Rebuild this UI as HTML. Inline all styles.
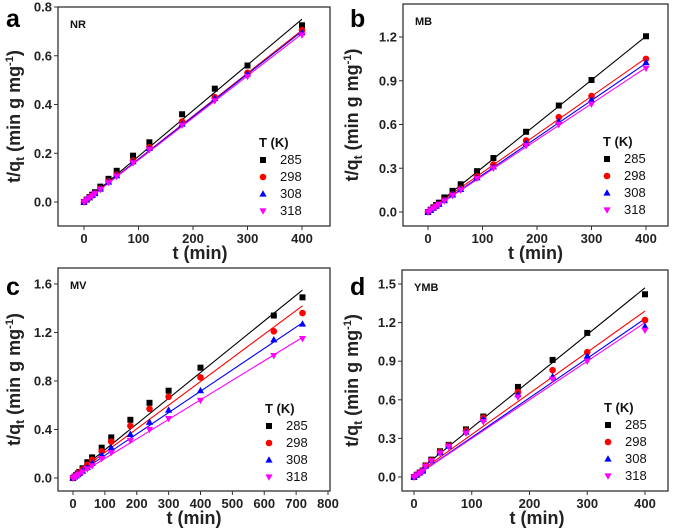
<!DOCTYPE html>
<html><head><meta charset="utf-8"><style>
body{margin:0;background:#fff;}
svg{display:block;font-family:"Liberation Sans",Arial,sans-serif;}
</style></head><body>
<svg id="fig" width="675" height="532" viewBox="0 0 675 532"></svg>
<script>
// ---------- data ----------
const legendTemps = ["285","298","308","318"];
const seriesColors = ["#000000","#ff0000","#0000ff","#ff00ff"];
const timesA = [0,5,10,15,20,30,45,60,90,120,180,240,300,400];
const timesC = [0,5,10,15,20,30,45,60,90,120,180,240,300,400,630,720];

const a285 = [0,0.010,0.020,0.030,0.040,0.063,0.095,0.128,0.19,0.245,0.36,0.465,0.56,0.725];
const a298 = [0,0.009,0.018,0.027,0.036,0.055,0.085,0.112,0.17,0.225,0.33,0.43,0.53,0.705];
const a308 = [0,0.009,0.018,0.027,0.035,0.053,0.082,0.108,0.165,0.22,0.32,0.425,0.525,0.695];
const a318 = [0,0.008,0.017,0.026,0.034,0.051,0.079,0.105,0.16,0.215,0.315,0.415,0.515,0.685];
const aLineStart = [0,0,0,0];
const aLineEnd = [0.75,0.705,0.70,0.69];

const b285 = [0,0.016,0.032,0.048,0.064,0.10,0.145,0.19,0.28,0.37,0.55,0.73,0.905,1.205];
const b298 = [0,0.014,0.028,0.041,0.055,0.082,0.12,0.16,0.245,0.325,0.49,0.65,0.795,1.05];
const b308 = [0,0.013,0.027,0.040,0.053,0.079,0.117,0.155,0.235,0.31,0.47,0.62,0.77,1.025];
const b318 = [0,0.013,0.026,0.039,0.051,0.076,0.113,0.15,0.23,0.30,0.455,0.60,0.74,0.985];
const bLineStart = [0.005,0.01,0,0];
const bLineEnd = [1.205,1.055,1.02,0.99];

const c285 = [0,0.012,0.025,0.037,0.05,0.08,0.13,0.17,0.25,0.335,0.48,0.62,0.72,0.91,1.34,1.49];
const c298 = [0,0.011,0.022,0.033,0.045,0.07,0.11,0.15,0.22,0.30,0.43,0.57,0.67,0.83,1.21,1.36];
const c308 = [0,0.009,0.018,0.028,0.038,0.058,0.088,0.12,0.19,0.25,0.36,0.46,0.56,0.72,1.14,1.27];
const c318 = [0,0.008,0.016,0.024,0.032,0.05,0.075,0.10,0.16,0.21,0.31,0.40,0.49,0.64,1.01,1.15];
const cLineStart = [0.02,0.015,0.01,0];
const cLineEnd = [1.55,1.42,1.28,1.16];

const d285 = [0,0.018,0.035,0.05,0.09,0.135,0.20,0.25,0.37,0.47,0.70,0.91,1.12,1.42];
const d298 = [0,0.017,0.033,0.048,0.088,0.13,0.195,0.245,0.36,0.46,0.66,0.83,0.97,1.22];
const d308 = [0,0.016,0.032,0.046,0.085,0.128,0.19,0.24,0.35,0.45,0.64,0.78,0.94,1.17];
const d318 = [0,0.015,0.030,0.045,0.083,0.125,0.185,0.235,0.34,0.43,0.62,0.76,0.90,1.14];
const dLineStart = [0.02,0.01,0,0];
const dLineEnd = [1.47,1.29,1.23,1.20];

const aYTicks = [0.0,0.2,0.4,0.6,0.8];
const bYTicks = [0.0,0.3,0.6,0.9,1.2];
const cYTicks = [0.0,0.4,0.8,1.2,1.6];
const dYTicks = [0.0,0.3,0.6,0.9,1.2,1.5];
const abdXTicks = [0,100,200,300,400];
const cXTicks = [0,100,200,300,400,500,600,700,800];

// ---------- drawing ----------
const NS="http://www.w3.org/2000/svg";
const svg=document.getElementById('fig');
function mk(tag,attrs,parent){const e=document.createElementNS(NS,tag);for(const k in attrs)e.setAttribute(k,attrs[k]);(parent||svg).appendChild(e);return e;}

function panel(p){
  const g=mk('g',{});
  
  
  const sx=v=>p.x0px+(v-0)*(p.x1px-p.x0px)/(p.x1v);
  const sy=v=>p.y0px-(v)*(p.y0px-p.y1px)/(p.y1v);
  const fr=mk('rect',{x:p.L,y:p.T,width:p.R-p.L,height:p.B-p.T,fill:'none',stroke:'#333','stroke-width':1.3},g);
  
  
  p.xt.forEach(v=>{
    const x=sx(v);
    mk('line',{x1:x,x2:x,y1:p.B,y2:p.B+4,stroke:'#333','stroke-width':1},g);
    const t=mk('text',{x:x,y:p.B+17,'text-anchor':'middle','font-size':13,'font-weight':'bold',fill:'#222'},g);
    t.textContent=v;
    
    
  });
  p.yt.forEach(v=>{
    const y=sy(v);
    mk('line',{x1:p.L-4,x2:p.L,y1:y,y2:y,stroke:'#333','stroke-width':1},g);
    const t=mk('text',{x:p.L-6,y:y+4.5,'text-anchor':'end','font-size':13,'font-weight':'bold',fill:'#222'},g);
    t.textContent=v.toFixed(1);
    
    
  });
  p.series.forEach((s,i)=>{
    const l=mk('line',{x1:sx(0),y1:sy(p.ls[i]),x2:sx(p.xEnd),y2:sy(p.le[i]),stroke:seriesColors[i],'stroke-width':1.1},g);
    
    
  });
  p.series.forEach((s,i)=>{
    s.forEach((v,j)=>{
      const m=marker(i,sx(p.times[j]),sy(v),g);
      
      
    });
  });
  const lt=mk('text',{x:p.lgx-4,y:p.lgy,'font-size':13,'font-weight':'bold',fill:'#111'},g);
  lt.textContent='T (K)';
  
  
  legendTemps.forEach((tp,i)=>{
    const y=p.lgy+17+i*17;
    const m=marker(i,p.lgx,y-4,g);
    
    
    const t=mk('text',{x:p.lgx+17,y:y,'font-size':13,fill:'#111'},g);
    t.textContent=tp;
    
    
  });
  const nm=mk('text',{x:p.L+12,y:p.T+21,'font-size':11,'font-weight':'bold',fill:'#111'},g);
  nm.textContent=p.name;
  
  
  const lt2=mk('text',{x:p.letx,y:p.lety,'font-size':25,'font-weight':'bold',fill:'#000'},g);
  lt2.textContent=p.id;
  
  
  const xt=mk('text',{x:(p.L+p.R)/2+p.xtOff,y:p.B+33,'text-anchor':'middle','font-size':18,'font-weight':'bold',fill:'#222'},g);
  xt.textContent='t (min)';
  
  
  const cy=(p.T+p.B)/2;
  const yt=mk('text',{x:0,y:0,'text-anchor':'middle','font-size':18,'font-weight':'bold',fill:'#222',transform:`translate(${p.ytx},${cy}) rotate(-90)`},g);
  yt.innerHTML='t/q<tspan font-size="12" dy="4">t</tspan><tspan dy="-4"> (min g mg</tspan><tspan font-size="11" dy="-7">-1</tspan><tspan dy="7">)</tspan>';
  
  
}
function marker(i,x,y,g){
  const c=seriesColors[i];
  if(i===0)return mk('rect',{x:x-3,y:y-3,width:6,height:6,fill:c},g);
  if(i===1)return mk('circle',{cx:x,cy:y,r:3.3,fill:c},g);
  if(i===2)return mk('polygon',{points:`${x},${y-3.8} ${x-3.6},${y+2.6} ${x+3.6},${y+2.6}`,fill:c},g);
  return mk('polygon',{points:`${x},${y+3.8} ${x-3.6},${y-2.6} ${x+3.6},${y-2.6}`,fill:c},g);
}

panel({id:'a',name:'NR',L:58,R:330,T:7,B:226,x0px:84,x1px:302,x1v:400,y0px:202,y1px:7,y1v:0.8,
  xt:abdXTicks,yt:aYTicks,times:timesA,xEnd:400,series:[a285,a298,a308,a318],ls:aLineStart,le:aLineEnd,
  lgx:263,lgy:147,letx:6,lety:27,xtOff:6,ytx:20});
panel({id:'b',name:'MB',L:403,R:668,T:4,B:226,x0px:428,x1px:646,x1v:400,y0px:212,y1px:37,y1v:1.2,
  xt:abdXTicks,yt:bYTicks,times:timesA,xEnd:400,series:[b285,b298,b308,b318],ls:bLineStart,le:bLineEnd,
  lgx:607,lgy:146,letx:350,lety:27,xtOff:0,ytx:358});
panel({id:'c',name:'MV',L:58,R:330,T:268,B:491,x0px:73,x1px:328,x1v:800,y0px:478,y1px:284,y1v:1.6,
  xt:cXTicks,yt:cYTicks,times:timesC,xEnd:720,series:[c285,c298,c308,c318],ls:cLineStart,le:cLineEnd,
  lgx:269,lgy:413,letx:6,lety:295,xtOff:0,ytx:20});
panel({id:'d',name:'YMB',L:402,R:668,T:270,B:491,x0px:414,x1px:645,x1v:400,y0px:477,y1px:284,y1v:1.5,
  xt:abdXTicks,yt:dYTicks,times:timesA,xEnd:400,series:[d285,d298,d308,d318],ls:dLineStart,le:dLineEnd,
  lgx:608,lgy:412,letx:350,lety:295,xtOff:2,ytx:358});
</script>
</body></html>
